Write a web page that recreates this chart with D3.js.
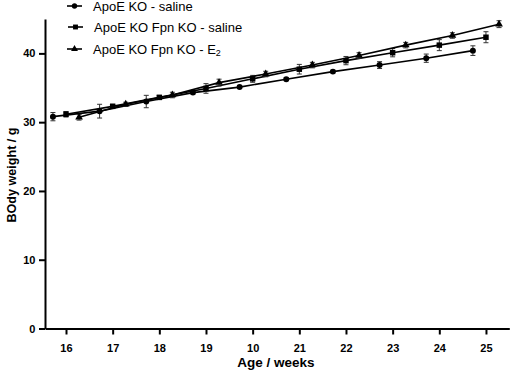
<!DOCTYPE html>
<html>
<head>
<meta charset="utf-8">
<script src="https://cdn.jsdelivr.net/npm/d3@7"></script>
<style>
  body { margin: 0; background: #fff; }
  svg { font-family: "Liberation Sans", Arial, sans-serif; }
  .axis path, .axis line { stroke: #000; stroke-width: 2; }
  .axis text { font-size: 11px; font-weight: bold; fill: #000; }
</style>
</head>
<body>
<div id="chart"></div>
<script>
// data
const seriesNames = ['ApoE KO - saline', 'ApoE KO Fpn KO - saline', 'ApoE KO Fpn KO - E']
const salineWeeks = [15.72, 16.72, 17.72, 18.72, 19.72, 20.72, 21.72, 22.72, 23.72, 24.72]
const salineMean = [30.8, 31.6, 33.0, 34.3, 35.1, 36.25, 37.35, 38.3, 39.3, 40.4]
const salineErr = [0.6, 1.0, 0.9, 0.2, 0.2, 0.2, 0.2, 0.5, 0.6, 0.7]
const fpnWeeks = [16, 17, 18, 19, 20, 21, 22, 23, 24, 25]
const fpnMean = [31.15, 32.3, 33.6, 34.9, 36.3, 37.7, 38.95, 40.1, 41.2, 42.35]
const fpnErr = [0.4, 0.3, 0.3, 0.7, 0.5, 0.7, 0.6, 0.6, 0.8, 0.8]
const e2Weeks = [16.28, 17.28, 18.28, 19.28, 20.28, 21.28, 22.28, 23.28, 24.28, 25.28]
const e2Mean = [30.7, 32.6, 33.95, 35.75, 37.0, 38.3, 39.7, 41.2, 42.6, 44.25]
const e2Err = [0.4, 0.3, 0.4, 0.5, 0.4, 0.4, 0.4, 0.4, 0.4, 0.5]
const xTicks = [16, 17, 18, 19, 20, 21, 22, 23, 24, 25]
const xTickLabels = ['16', '17', '18', '19', '10', '21', '22', '23', '24', '25']
const yTicks = [0, 10, 20, 30, 40]

const width = 512
const height = 376

const svg = d3.select('#chart').append('svg')
    .attr('width', width)
    .attr('height', height)

// scales
const xScale = d3.scaleLinear()
    .domain([15.55, 25.5])
    .range([45, 509.3])

const yScale = d3.scaleLinear()
    .domain([0, 45])
    .range([328.5, 19])

const series = [
    { name: seriesNames[0], weeks: salineWeeks, mean: salineMean, err: salineErr, shape: d3.symbolCircle, size: 28 },
    { name: seriesNames[1], weeks: fpnWeeks, mean: fpnMean, err: fpnErr, shape: d3.symbolSquare, size: 30 },
    { name: seriesNames[2], weeks: e2Weeks, mean: e2Mean, err: e2Err, shape: d3.symbolTriangle, size: 26 }
]
series.forEach(s => {
    s.points = s.weeks.map((w, i) => ({ x: w, y: s.mean[i], e: s.err[i] }))
})

// axes
svg.append('g')
    .attr('class', 'axis x-axis')
    .attr('transform', `translate(0,${yScale(0)})`)
    .call(d3.axisBottom(xScale)
        .tickValues(xTicks)
        .tickSize(6)
        .tickSizeOuter(0)
        .tickFormat((d, i) => xTickLabels[i]))
    .call(g => g.selectAll('text').attr('dy', '1.3em'))

svg.append('g')
    .attr('class', 'axis y-axis')
    .attr('transform', `translate(${xScale(15.55)},0)`)
    .call(d3.axisLeft(yScale)
        .tickValues(yTicks)
        .tickSize(6)
        .tickSizeOuter(0))
    .call(g => g.selectAll('text').attr('dx', '-0.05em'))

// axis titles
svg.append('text')
    .attr('x', 276)
    .attr('y', 367)
    .attr('text-anchor', 'middle')
    .style('font-size', '13.5px')
    .style('font-weight', 'bold')
    .text('Age / weeks')

svg.append('text')
    .attr('transform', 'translate(15.5,175) rotate(-90)')
    .attr('text-anchor', 'middle')
    .attr('textLength', 95)
    .attr('lengthAdjust', 'spacingAndGlyphs')
    .style('font-size', '13.5px')
    .style('font-weight', 'bold')
    .text('BOdy weight / g')

const line = d3.line()
    .x(d => xScale(d.x))
    .y(d => yScale(d.y))

const plot = svg.append('g')

series.forEach(s => {
    const g = plot.append('g')

    g.append('path')
        .datum(s.points)
        .attr('fill', 'none')
        .attr('stroke', '#000')
        .attr('stroke-width', 1.6)
        .attr('d', line)

    // error bars
    const eb = g.selectAll('.err')
        .data(s.points)
        .join('g')
        .attr('class', 'err')
        .attr('stroke', '#333')
        .attr('stroke-width', 1)
    eb.append('line')
        .attr('x1', d => xScale(d.x))
        .attr('x2', d => xScale(d.x))
        .attr('y1', d => yScale(d.y - d.e))
        .attr('y2', d => yScale(d.y + d.e))
    eb.append('line')
        .attr('x1', d => xScale(d.x) - 2.5)
        .attr('x2', d => xScale(d.x) + 2.5)
        .attr('y1', d => yScale(d.y + d.e))
        .attr('y2', d => yScale(d.y + d.e))
    eb.append('line')
        .attr('x1', d => xScale(d.x) - 2.5)
        .attr('x2', d => xScale(d.x) + 2.5)
        .attr('y1', d => yScale(d.y - d.e))
        .attr('y2', d => yScale(d.y - d.e))

    g.selectAll('.marker')
        .data(s.points)
        .join('path')
        .attr('class', 'marker')
        .attr('transform', d => `translate(${xScale(d.x)},${yScale(d.y)})`)
        .attr('d', d3.symbol().type(s.shape).size(s.size))
        .attr('fill', '#000')
})

// legend
const legend = svg.append('g')
const rowY = [6, 27, 49]
const rowX = [67, 68, 67]
series.forEach((s, i) => {
    const row = legend.append('g')
        .attr('transform', `translate(${rowX[i]},${rowY[i]})`)
    row.append('line')
        .attr('x1', 0)
        .attr('x2', 15)
        .attr('stroke', '#000')
        .attr('stroke-width', 1.6)
    row.append('path')
        .attr('transform', 'translate(7.5,0)')
        .attr('d', d3.symbol().type(s.shape).size(s.size * 0.8))
    const t = row.append('text')
        .attr('x', 26)
        .attr('dy', '0.35em')
        .style('font-size', '13px')
        .text(s.name)
    if (i === 2) {
        t.append('tspan')
            .attr('dy', '0.3em')
            .style('font-size', '9px')
            .text('2')
    }
})
</script>
</body>
</html>
